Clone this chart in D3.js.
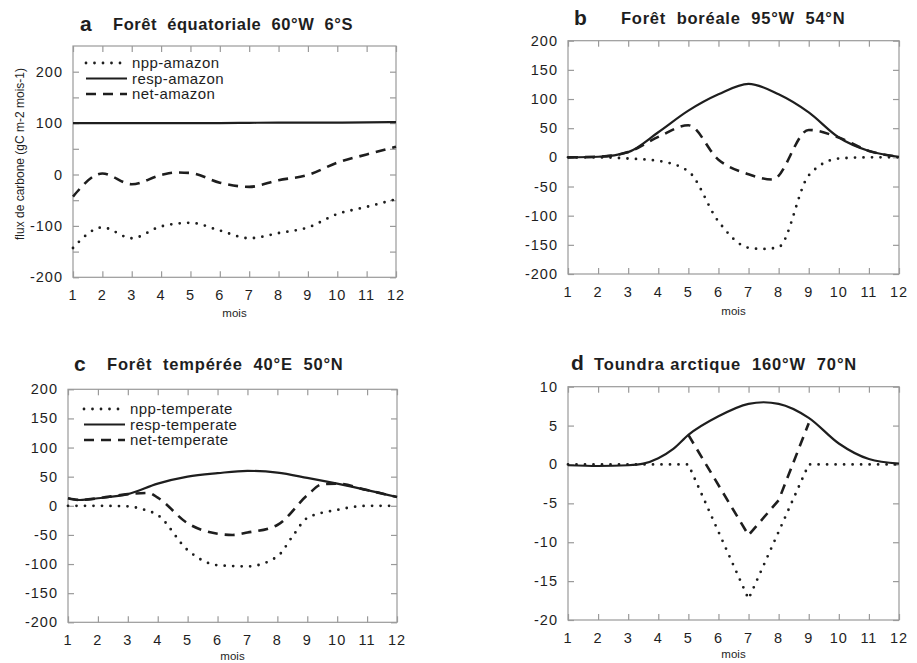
<!DOCTYPE html>
<html><head><meta charset="utf-8">
<script src="https://cdn.jsdelivr.net/npm/d3@7/dist/d3.min.js"></script>
<style>
body{margin:0;background:#fff}
text{font-family:"Liberation Sans",Arial,Helvetica,sans-serif;fill:#1e1e1e}
</style>
</head><body>
<svg id="chart" width="917" height="663"></svg>
<script>
// ---------- data ----------
const months = [1,2,3,4,5,6,7,8,9,10,11,12];
const monthLabels = ["1","2","3","4","5","6","7","8","9","10","11","12"];

// a : Forêt équatoriale
const aRespX = months;
const aResp = [100,100,100,100,100,100,100.5,101,101,101,101.5,102];
const aNppX = months;
const aNpp = [-143,-103,-124,-101,-94,-109,-124,-114,-103,-77,-63,-48];
const aNetX = [1,2,3,4,4.5,5,6,7,8,9,10,11,12];
const aNet = [-43,2,-19,-1,4,3,-16,-24,-11,-1,23,39,54];
const aTicks = [-200,-150,-100,-50,0,50,100,150,200];
const aLabels = [-200,-100,0,100,200];
const aLegend = ["npp-amazon","resp-amazon","net-amazon"];

// b : Forêt boréale
const bRespX = months;
const bResp = [0,1,9,43,80,108,126,108,77,34,11,1];
const bNppX = [1,2,3,4,5,6,7,7.5,8,9,10,11,12];
const bNpp = [0,0,-2,-6,-24,-110,-155,-157,-154,-31,-2,0,0];
const bNetX = [1,2,3,4,5,6,7,7.8,9,10,11,12];
const bNet = [0,1,9,35,55,-4,-29,-38,47,34,11,1];
const bTicks = [-200,-150,-100,-50,0,50,100,150,200];
const bLabels = bTicks;

// c : Forêt tempérée
const cRespX = [1,1.4,2,3,4,5,6,7,8,9,10,11,12];
const cResp = [13,10,13,20,38,50,56,60,57,48,38,27,15];
const cNppX = [1,2,3,3.5,4,5,6,7,8,8.5,9,10,11,12];
const cNpp = [0,0,-1,-6,-16,-76,-102,-104,-87,-53,-21,-7,0,0];
const cNetX = [1,1.4,2,3,3.7,4,5,6,6.5,7,8,9,9.5,10,11,12];
const cNet = [13,10,13,20,22,14,-30,-48,-50,-46,-33,18,37,38,27,15];
const cTicks = [-200,-150,-100,-50,0,50,100,150,200];
const cLabels = cTicks;
const cLegend = ["npp-temperate","resp-temperate","net-temperate"];

// d : Toundra arctique
const dRespX = [1,2,3,3.5,4,4.5,5,6,7,7.5,8,9,10,11,12];
const dResp = [-0.1,-0.2,-0.1,0.1,0.8,2.0,3.8,6.2,7.8,8.0,7.8,6.0,2.7,0.7,0.1];
const dNppX = [1,5,7,9,12];
const dNpp = [0,0,-17.3,0,0];
const dNetX = [5,7,8,9];
const dNet = [3.8,-9.1,-4.6,5.3];
const dTicks = [-20,-15,-10,-5,0,5,10];
const dLabels = dTicks;

// ---------- drawing ----------
const svg = d3.select("#chart");
const INK = "#1e1e1e", FRAME = "#9a9a9a";

const panels = [
  {key:"a", letter:"a", title:"Forêt  équatoriale  60°W  6°S", xr:[73,396], yd:[-200,250], yr:[277.3,46],
   ticks:aTicks, labels:aLabels, legend:aLegend, legPos:[85,63], letterPos:[80,30.5], titlePos:[113,30], ls:0.55,
   series:[{x:aNppX,y:aNpp,t:"dot"},{x:aRespX,y:aResp,t:"solid"},{x:aNetX,y:aNet,t:"dash"}], moisDy:36},
  {key:"b", letter:"b", title:"Forêt  boréale  95°W  54°N", xr:[568,899], yd:[-200,200], yr:[274,40.7],
   ticks:bTicks, labels:bLabels, legend:null, letterPos:[574,25], titlePos:[621,24], ls:0.75,
   series:[{x:bNppX,y:bNpp,t:"dot"},{x:bRespX,y:bResp,t:"solid"},{x:bNetX,y:bNet,t:"dash"}], moisDy:37},
  {key:"c", letter:"c", title:"Forêt  tempérée  40°E  50°N", xr:[68,397], yd:[-200,200], yr:[622.3,389.3],
   ticks:cTicks, labels:cLabels, legend:cLegend, legPos:[83,409], letterPos:[74,370.5], titlePos:[107,370], ls:0.8,
   series:[{x:cNppX,y:cNpp,t:"dot"},{x:cRespX,y:cResp,t:"solid"},{x:cNetX,y:cNet,t:"dash"}], moisDy:34},
  {key:"d", letter:"d", title:"Toundra arctique  160°W  70°N", xr:[568,899], yd:[-20,10], yr:[620,386.7],
   ticks:dTicks, labels:dLabels, legend:null, letterPos:[571,370], titlePos:[594,369.5], ls:0.85,
   series:[{x:dNppX,y:dNpp,t:"dot",lin:true},{x:dRespX,y:dResp,t:"solid"},{x:dNetX,y:dNet,t:"dash",lin:true}], moisDy:34}
];

function styleLine(sel, t){
  sel.attr("fill","none").attr("stroke",INK);
  if(t==="dot") sel.attr("stroke-width",2.8).attr("stroke-linecap","round").attr("stroke-dasharray","0 8.5");
  else if(t==="dash") sel.attr("stroke-width",2.6).attr("stroke-dasharray","10 7");
  else sel.attr("stroke-width",2.2);
  return sel;
}

panels.forEach(p=>{
  const x = d3.scaleLinear().domain([1,12]).range(p.xr);
  const y = d3.scaleLinear().domain(p.yd).range(p.yr);
  const g = svg.append("g");
  const top = y(p.yd[1]), bot = y(p.yd[0]);

  // frame
  g.append("rect").attr("x",p.xr[0]).attr("y",top).attr("width",p.xr[1]-p.xr[0]).attr("height",bot-top)
    .attr("fill","none").attr("stroke",FRAME).attr("stroke-width",1.2);

  // x ticks (inward, bottom and top)
  const xb = d3.axisBottom(x).tickValues(months).tickSize(-6).tickFormat("");
  const xt = d3.axisTop(x).tickValues(months).tickSize(-6).tickFormat("");
  [g.append("g").attr("transform",`translate(0,${bot})`).call(xb),
   g.append("g").attr("transform",`translate(0,${top})`).call(xt)].forEach(a=>{
     a.select(".domain").remove(); a.selectAll("line").attr("stroke",FRAME).attr("stroke-width",1.2);
  });
  // y ticks (inward, left and right)
  const yl = d3.axisLeft(y).tickValues(p.ticks).tickSize(-6).tickFormat("");
  const yrr = d3.axisRight(y).tickValues(p.ticks).tickSize(-6).tickFormat("");
  [g.append("g").attr("transform",`translate(${p.xr[0]},0)`).call(yl),
   g.append("g").attr("transform",`translate(${p.xr[1]},0)`).call(yrr)].forEach(a=>{
     a.select(".domain").remove(); a.selectAll("line").attr("stroke",FRAME).attr("stroke-width",1.2);
  });

  // x labels
  g.selectAll(".xl").data(months).enter().append("text")
    .attr("x",d=>x(d)).attr("y",bot+23).attr("text-anchor","middle")
    .attr("font-size",14.5).attr("letter-spacing",1).text((d,i)=>monthLabels[i]);
  g.append("text").attr("x",(p.xr[0]+p.xr[1])/2).attr("y",bot+p.moisDy+4).attr("text-anchor","middle")
    .attr("font-size",11.5).text("mois");

  // y labels
  g.selectAll(".yl").data(p.labels).enter().append("text")
    .attr("x",p.xr[0]-10).attr("y",d=>y(d)+5).attr("text-anchor","end")
    .attr("font-size",14.5).attr("letter-spacing",1).text(d=>d);

  // title
  g.append("text").attr("x",p.letterPos[0]).attr("y",p.letterPos[1]).attr("font-size",21)
    .attr("font-weight","bold").text(p.letter);
  g.append("text").attr("x",p.titlePos[0]).attr("y",p.titlePos[1]).attr("font-size",16.5)
    .attr("font-weight","bold").attr("letter-spacing",p.ls).style("white-space","pre").text(p.title);

  // series
  p.series.forEach(s=>{
    const line = d3.line().x(d=>x(d[0])).y(d=>y(d[1]))
      .curve(s.lin ? d3.curveLinear : d3.curveMonotoneX);
    styleLine(g.append("path").attr("d",line(s.x.map((v,i)=>[v,s.y[i]]))), s.t);
  });

  // legend
  if(p.legend){
    const types=["dot","solid","dash"];
    p.legend.forEach((lab,i)=>{
      const yy = p.legPos[1] + i*15.5;
      styleLine(g.append("line").attr("x1",p.legPos[0]+1).attr("x2",p.legPos[0]+42).attr("y1",yy).attr("y2",yy), types[i]);
      g.append("text").attr("x",p.legPos[0]+47).attr("y",yy+5).attr("font-size",15)
        .attr("letter-spacing",0.4).text(lab);
    });
  }
});

// y-axis title (panel a)
svg.append("text").attr("transform","translate(24,154) rotate(-90)").attr("text-anchor","middle")
  .attr("font-size",12).text("flux de carbone (gC m-2 mois-1)");
</script>
</body></html>
